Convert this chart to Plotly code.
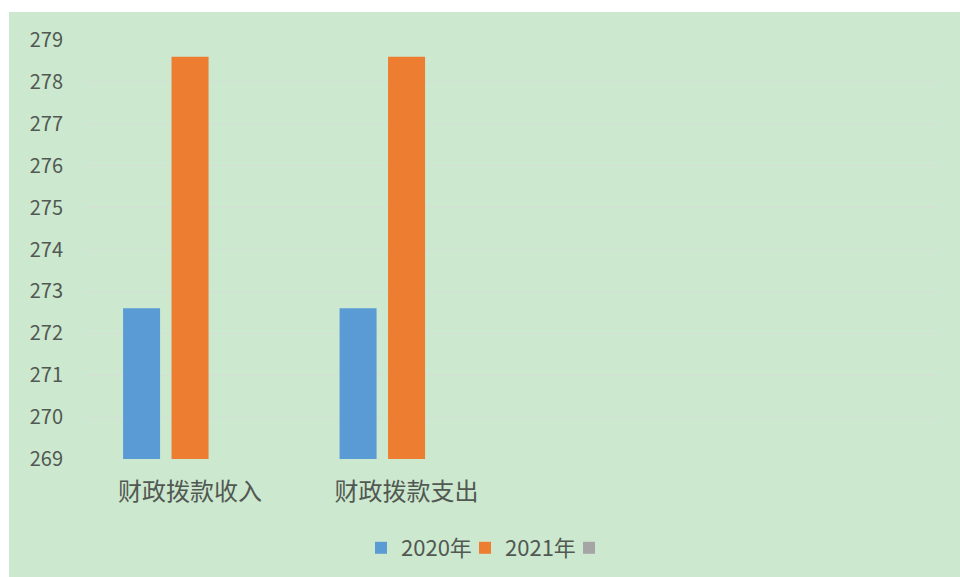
import plotly.graph_objects as go

categories = ["财政拨款收入", "财政拨款支出", " ", "  "]
series_names = ["2020年", "2021年", ""]
values_2020 = [272.6, 272.6, None, None]
values_2021 = [278.6, 278.6, None, None]
values_3 = [None, None, None, None]
y_ticks = [269, 270, 271, 272, 273, 274, 275, 276, 277, 278, 279]

colors = ["#5b9bd5", "#ed7d31", "#a5a5a5"]
bg = "#cce8cf"

W, H = 960, 577
L, R, T, B = 87, 23, 40, 118
pw, ph = W - L - R, H - T - B

fig = go.Figure()
for i, (nm, vals) in enumerate(zip(series_names, [values_2020, values_2021, values_3])):
    fig.add_trace(go.Bar(x=categories, y=vals, name=nm, marker_color=colors[i],
                         marker_line_width=0, offsetgroup=str(i), showlegend=True))

# green backdrop with white band at top and left
fig.add_shape(type="rect", xref="paper", yref="paper", layer="below",
              x0=(9 - L) / pw, x1=(W - L) / pw, y0=-B / ph, y1=1 + (T - 12) / ph,
              fillcolor=bg, line_width=0)

fig.update_layout(
    width=W, height=H,
    margin=dict(l=L, r=R, t=T, b=B, autoexpand=False),
    paper_bgcolor="white", plot_bgcolor=bg,
    barmode="group", bargap=0.328, bargroupgap=0.237,
    font=dict(family="Noto Sans CJK SC, Noto Sans, sans-serif", color="#525852"),
    showlegend=True,
    legend=dict(orientation="h", x=(517 - L) / pw, xanchor="center", y=-89 / ph, yanchor="middle",
                font=dict(size=22, color="#525852"), bgcolor="rgba(0,0,0,0)",
                itemwidth=30, entrywidth=59, entrywidthmode="pixels", traceorder="normal"),
)
fig.update_yaxes(range=[269, 279], tickvals=y_ticks, showgrid=True,
                 gridcolor="#d3e0d3", gridwidth=1, zeroline=False, showline=False,
                 tickfont=dict(size=20, color="#525852"), ticklabelstandoff=23)
fig.update_xaxes(range=[-0.476, 3.45], showgrid=False, showline=False, ticks="",
                 tickfont=dict(size=24, color="#525852"), ticklabelstandoff=16)

fig.write_html("out.html", config={"displayModeBar": False},
               post_script="document.body.style.margin='0';document.body.style.overflow='hidden';")
